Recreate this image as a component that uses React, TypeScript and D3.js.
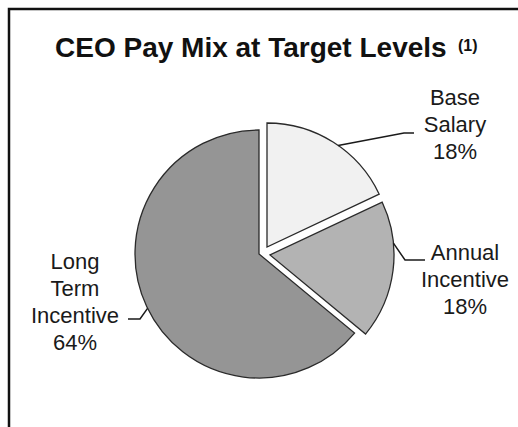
import React, { useEffect, useRef } from 'react';
import * as d3 from 'd3';

// chart data
const categories = ['Base Salary', 'Annual Incentive', 'Long Term Incentive'];
const shares = [18, 18, 64];
const labelLines = [['Base', 'Salary', '18%'], ['Annual', 'Incentive', '18%'], ['Long', 'Term', 'Incentive', '64%']];
const titleText = 'CEO Pay Mix at Target Levels';
const footnoteMark = '(1)';

const W = 518;
const H = 427;

const App: React.FC = () => {
    const svgRef = useRef<SVGSVGElement>(null);

    useEffect(() => {
        if (!svgRef.current) return;
        const svg = d3.select(svgRef.current);
        svg.selectAll('*').remove();

        const font = '"Liberation Sans", Arial, Helvetica, sans-serif';
        const cx = 259;
        const cy = 254;
        const radius = 124;

        svg.append('rect').attr('width', W).attr('height', H).attr('fill', '#fff');

        // frame (only top and left edges fall inside the picture)
        svg.append('rect')
            .attr('x', 9).attr('y', 9)
            .attr('width', W + 40).attr('height', H + 40)
            .attr('fill', 'none')
            .attr('stroke', '#111')
            .attr('stroke-width', 2.5);

        // title
        svg.append('text')
            .attr('x', 55).attr('y', 57)
            .attr('font-family', font)
            .attr('font-weight', 'bold')
            .attr('font-size', 28)
            .attr('fill', '#111')
            .text(titleText);
        svg.append('text')
            .attr('x', 458).attr('y', 51)
            .attr('font-family', font)
            .attr('font-weight', 'bold')
            .attr('font-size', 16)
            .attr('fill', '#111')
            .text(footnoteMark);

        const data = categories.map((c, i) => ({ category: c, value: shares[i], lines: labelLines[i] }));

        const pie = d3.pie<typeof data[0]>().sort(null).value(d => d.value);
        const arcs = pie(data);
        const arc = d3.arc<d3.PieArcDatum<typeof data[0]>>().innerRadius(0).outerRadius(radius);

        const color = d3.scaleOrdinal<string>()
            .domain(categories)
            .range(['#f1f1f1', '#b3b3b3', '#959595']);

        // exploded offsets for the two small slices
        const offsets: Record<string, [number, number]> = {
            'Base Salary': [8, -7],
            'Annual Incentive': [11, 1],
            'Long Term Incentive': [0, 0]
        };

        const g = svg.append('g').attr('transform', `translate(${cx},${cy})`);

        g.selectAll('path.slice')
            .data(arcs)
            .enter()
            .append('path')
            .attr('class', 'slice')
            .attr('transform', d => `translate(${offsets[d.data.category][0]},${offsets[d.data.category][1]})`)
            .attr('d', d => arc(d) as string)
            .attr('fill', d => color(d.data.category))
            .attr('stroke', '#2a2a2a')
            .attr('stroke-width', 1.3)
            .attr('stroke-linejoin', 'miter');

        // label layout: text centre x, first baseline, leader angle on the arc and leader path
        const layout: Record<string, { x: number; y: number; angle: number; leader: [number, number][] }> = {
            'Base Salary': { x: 455, y: 105, angle: 35, leader: [[404, 133], [414, 133]] },
            'Annual Incentive': { x: 465, y: 260, angle: 84.5, leader: [[405, 260], [425, 260]] },
            'Long Term Incentive': { x: 75, y: 269, angle: 244, leader: [[140, 319], [128, 319]] }
        };
        const lineGap = 27;

        arcs.forEach(d => {
            const l = layout[d.data.category];
            const off = offsets[d.data.category];
            const a = (l.angle * Math.PI) / 180;
            const start: [number, number] = [
                cx + off[0] + radius * Math.sin(a),
                cy + off[1] - radius * Math.cos(a)
            ];
            svg.append('path')
                .attr('d', d3.line()([start, ...l.leader]) as string)
                .attr('fill', 'none')
                .attr('stroke', '#1a1a1a')
                .attr('stroke-width', 1.5);

            const t = svg.append('text')
                .attr('font-family', font)
                .attr('font-size', 22)
                .attr('fill', '#1a1a1a')
                .attr('text-anchor', 'middle');
            d.data.lines.forEach((line, i) => {
                t.append('tspan')
                    .attr('x', l.x)
                    .attr('y', l.y + i * lineGap)
                    .text(line);
            });
        });
    }, []);

    return (
        <svg
            ref={svgRef}
            width={W}
            height={H}
            style={{ position: 'absolute', left: 0, top: 0, display: 'block' }}
        />
    );
};

export default App;
